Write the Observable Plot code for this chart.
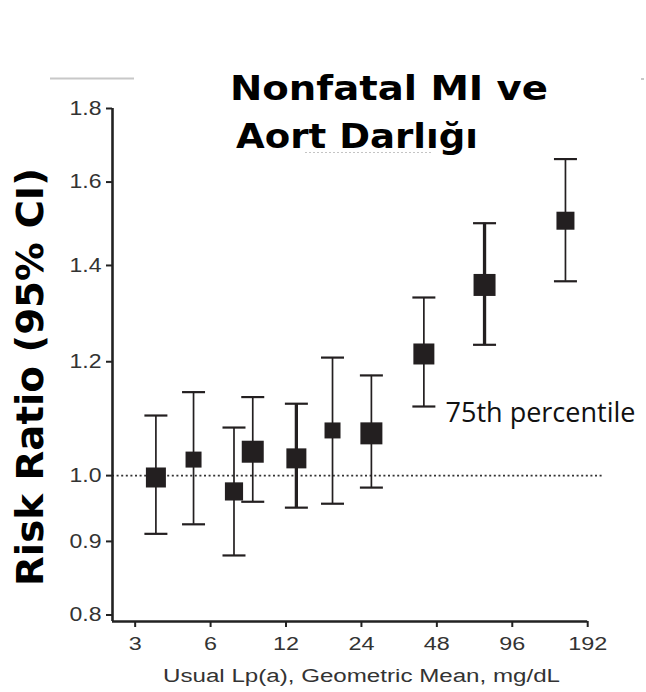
<!DOCTYPE html>
<html>
<head>
<meta charset="utf-8">
<script src="https://cdn.jsdelivr.net/npm/d3@7"></script>
<script src="https://cdn.jsdelivr.net/npm/@observablehq/plot@0.6"></script>
<style>
  body { margin: 0; background: #fff; }
  #wrap { position: relative; width: 646px; height: 692px; overflow: hidden; background: #fff; }
  #wrap svg.overlay { position: absolute; left: 0; top: 0; pointer-events: none; }
  [aria-label="y-axis tick label"] text { font-family: "Liberation Sans", Arial, sans-serif; font-size: 19.5px; fill: #333; }
  [aria-label="x-axis tick label"] text { font-family: "Liberation Sans", Arial, sans-serif; font-size: 18px; fill: #333; }
  [aria-label="y-axis tick"], [aria-label="x-axis tick"] { stroke: #222; stroke-width: 2px; }
</style>
</head>
<body>
<div id="wrap"></div>
<script>
// ---- data ----
const lpaMean   = [3.63, 5.13, 7.44, 8.84, 13.2, 18.4, 26.3, 42.6, 74.4, 156.5];
const riskRatio = [0.997, 1.026, 0.975, 1.039, 1.028, 1.075, 1.070, 1.215, 1.357, 1.504];
const ciLow     = [0.911, 0.925, 0.880, 0.959, 0.950, 0.956, 0.981, 1.117, 1.233, 1.365];
const ciHigh    = [1.101, 1.143, 1.080, 1.134, 1.122, 1.208, 1.174, 1.330, 1.498, 1.660];
const weight    = [4.0, 2.56, 3.3, 4.84, 4.0, 2.56, 4.84, 4.41, 4.84, 3.24];
const xTicks = [3, 6, 12, 24, 48, 96, 192];
const yTicks = [0.8, 0.9, 1.0, 1.2, 1.4, 1.6, 1.8];
const annotations = [{label: "75th percentile", x: 52, y: 1.104}];
const titleLines = ["Nonfatal MI ve", "Aort Darlığı"];
const yLabel = "Risk Ratio (95% CI)";
const xLabel = "Usual Lp(a), Geometric Mean, mg/dL";

// ---- config ----
const xDomain = [2.436, 222];
const yDomain = [0.7917, 1.8];
const thickBars = [4, 8];
const ink = "#231f20";

const rows = lpaMean.map((x, i) => ({x, rr: riskRatio[i], lo: ciLow[i], hi: ciHigh[i], w: weight[i], i}));

const capSymbol = {
  draw(ctx, size) {
    const h = Math.sqrt(size / Math.PI);
    ctx.moveTo(-h, 0);
    ctx.lineTo(h, 0);
  }
};

const chart = Plot.plot({
  width: 646,
  height: 692,
  marginLeft: 112,
  marginRight: 43,
  marginTop: 108,
  marginBottom: 71,
  x: {type: "log", base: 2, domain: xDomain, ticks: xTicks, tickFormat: d => String(d), tickSize: 6, tickPadding: 10, label: null},
  y: {type: "log", domain: yDomain, ticks: yTicks, tickFormat: d3.format(".1f"), tickSize: 6, tickPadding: 5, label: null},
  r: {type: "sqrt", domain: [0, d3.max(weight)], range: [0, 22 / Math.sqrt(Math.PI)]},
  marks: [
    Plot.ruleY([1], {stroke: "#333", strokeWidth: 1.6, strokeDasharray: "2,2.6"}),
    Plot.ruleX([xDomain[0]], {stroke: "#222", strokeWidth: 2.6}),
    Plot.ruleY([yDomain[0]], {x1: xDomain[0], x2: xTicks[xTicks.length - 1], stroke: "#222", strokeWidth: 2.6}),
    Plot.ruleX(rows, {x: "x", y1: "lo", y2: "hi", stroke: ink, strokeWidth: d => thickBars.includes(d.i) ? 3.3 : 1.7}),
    Plot.dot(rows, {x: "x", y: "lo", symbol: capSymbol, r: 11.5, fill: "none", stroke: ink, strokeWidth: 2.2}),
    Plot.dot(rows, {x: "x", y: "hi", symbol: capSymbol, r: 11.5, fill: "none", stroke: ink, strokeWidth: 2.2}),
    Plot.dot(rows, {x: "x", y: "rr", symbol: "square", r: "w", fill: ink, stroke: "none"}),
    Plot.text(annotations, {x: "x", y: "y", text: "label", textAnchor: "start", fontFamily: "Open Sans", fontSize: 27, fill: "#111"})
  ]
});

const wrap = document.getElementById("wrap");
wrap.appendChild(chart);

// widen tick labels to match the stretched look of the reference
chart.querySelectorAll('[aria-label="y-axis tick label"] text').forEach(t => {
  const L = t.getComputedTextLength();
  t.setAttribute("textLength", (L * 1.18).toFixed(1));
  t.setAttribute("lengthAdjust", "spacingAndGlyphs");
});
chart.querySelectorAll('[aria-label="x-axis tick label"] text').forEach(t => {
  const L = t.getComputedTextLength();
  t.setAttribute("textLength", (L * 1.3).toFixed(1));
  t.setAttribute("lengthAdjust", "spacingAndGlyphs");
});

// overlay: title, axis labels, decorations
const NS = "http://www.w3.org/2000/svg";
const ov = document.createElementNS(NS, "svg");
ov.setAttribute("class", "overlay");
ov.setAttribute("width", 646);
ov.setAttribute("height", 692);
function add(tag, attrs, text) {
  const el = document.createElementNS(NS, tag);
  for (const k in attrs) el.setAttribute(k, attrs[k]);
  if (text != null) el.textContent = text;
  ov.appendChild(el);
  return el;
}
// faint decorations from the source slide
add("line", {x1: 50, x2: 134, y1: 78.5, y2: 78.5, stroke: "#c8c8c8", "stroke-width": 2});
add("rect", {x: 641, y: 78, width: 3, height: 2, fill: "#c8c8c8"});
add("line", {x1: 305, x2: 432, y1: 152.5, y2: 152.5, stroke: "#c4c4c4", "stroke-width": 1.2, "stroke-dasharray": "2,2"});

const titleFont = {"font-family": "DejaVu Sans, sans-serif", "font-weight": "bold", "font-size": 34, fill: "#000"};
add("text", {...titleFont, x: 230, y: 100, textLength: 318, lengthAdjust: "spacingAndGlyphs"}, titleLines[0]);
add("text", {...titleFont, x: 236, y: 148, textLength: 242, lengthAdjust: "spacingAndGlyphs"}, titleLines[1]);

add("text", {"font-family": "DejaVu Sans, sans-serif", "font-weight": "bold", "font-size": 37, fill: "#000",
  "text-anchor": "middle", transform: "translate(43,377) rotate(-90)", textLength: 418, lengthAdjust: "spacingAndGlyphs"}, yLabel);

add("text", {"font-family": "Liberation Sans, Arial, sans-serif", "font-size": 18, fill: "#333",
  x: 163, y: 682, textLength: 397, lengthAdjust: "spacingAndGlyphs"}, xLabel);

wrap.appendChild(ov);
</script>
</body>
</html>
